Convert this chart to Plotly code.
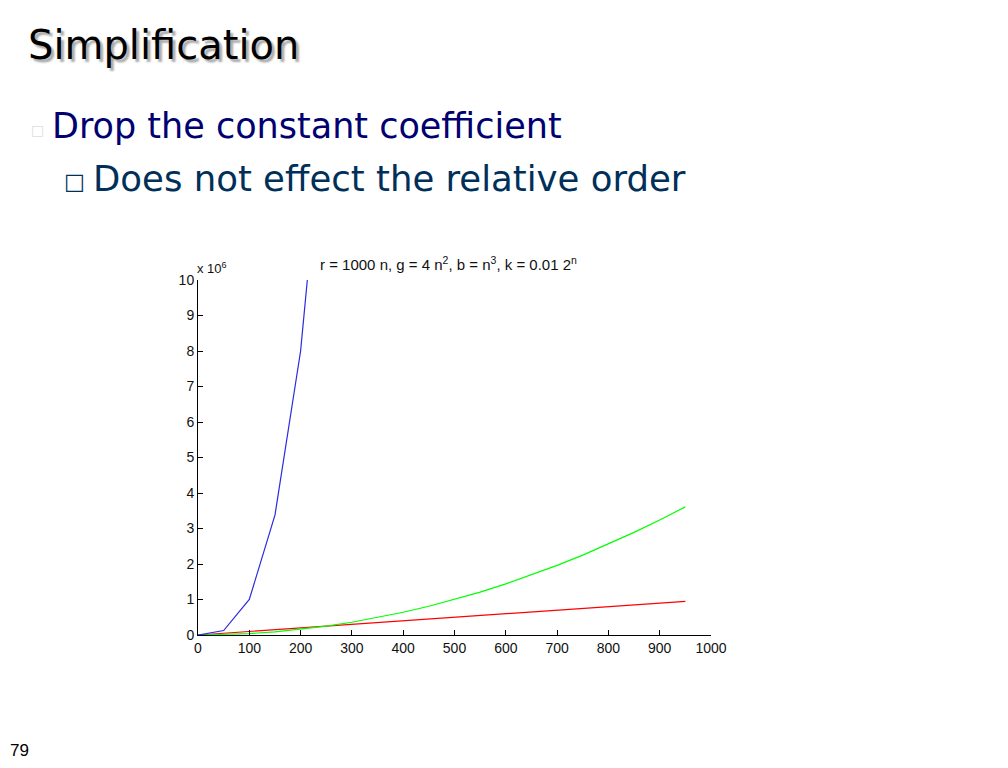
import plotly.graph_objects as go

# ---- data (values in units of 1e6) ----
n = [0, 50, 100, 150, 200, 250, 300, 350, 400, 450, 500, 550, 600, 650, 700, 750, 800, 850, 900, 950]
r_vals = [0, 0.05, 0.10, 0.15, 0.20, 0.25, 0.30, 0.35, 0.40, 0.45, 0.50, 0.55, 0.60, 0.65, 0.70, 0.75, 0.80, 0.85, 0.90, 0.95]
g_vals = [0, 0.01, 0.04, 0.09, 0.16, 0.25, 0.36, 0.49, 0.64, 0.81, 1.00, 1.21, 1.44, 1.69, 1.96, 2.25, 2.56, 2.89, 3.24, 3.61]
b_n = [0, 50, 100, 150, 200, 250]
b_vals = [0, 0.125, 1.0, 3.375, 8.0, 15.625]
x_ticks = [0, 100, 200, 300, 400, 500, 600, 700, 800, 900, 1000]
y_ticks = [0, 1, 2, 3, 4, 5, 6, 7, 8, 9, 10]

OFF = 8  # page body margin
W, H = 1008 - 2 * OFF, 768 - 2 * OFF

def fx(p):
    return (p - OFF) / W

def fy(p):
    return 1 - (p - OFF) / H

fig = go.Figure()
fig.add_trace(go.Scatter(x=n, y=r_vals, mode="lines", line=dict(color="#ff0000", width=1.2), name="r"))
fig.add_trace(go.Scatter(x=n, y=g_vals, mode="lines", line=dict(color="#00ff00", width=1.2), name="g"))
fig.add_trace(go.Scatter(x=b_n, y=b_vals, mode="lines", line=dict(color="#2a2ae0", width=1.2), name="b"))

tickfont = dict(family="Liberation Sans, Arial", size=14, color="#111")
fig.update_layout(
    width=W, height=H, margin=dict(l=0, r=0, t=0, b=0),
    paper_bgcolor="white", plot_bgcolor="white", showlegend=False,
    xaxis=dict(domain=[fx(198), fx(711)], range=[0, 1000], tickvals=x_ticks, automargin=False,
               ticks="inside", ticklen=5, tickcolor="#000", showline=True, linecolor="#000",
               linewidth=1, showgrid=False, zeroline=False, tickfont=tickfont, fixedrange=True),
    yaxis=dict(domain=[fy(635), fy(280)], range=[0, 10], tickvals=y_ticks, automargin=False,
               ticks="inside", ticklen=5, tickcolor="#000", showline=True, linecolor="#000",
               linewidth=1, showgrid=False, zeroline=False, tickfont=tickfont, fixedrange=True),
)

def ann(text, x, y, size, color, family, xanchor="left", yanchor="middle", shadow=None):
    font = dict(size=size, color=color, family=family)
    if shadow:
        font["shadow"] = shadow
    fig.add_annotation(text=text, x=fx(x), y=fy(y), xref="paper", yref="paper",
                       xanchor=xanchor, yanchor=yanchor, showarrow=False, font=font)

slide_font = "DejaVu Sans"
ann("Simplification", 26, 45, 40, "#000000", slide_font, shadow="3px 3px 2px #aaaaaa")
ann("\u25a1", 29, 130, 14, "#dddddd", slide_font)
ann("Drop the constant coefficient", 50, 126, 35, "#000070", slide_font)
ann("\u25a1", 62, 181, 22, "#003060", slide_font)
ann("Does not effect the relative order", 91, 178, 35.5, "#00305a", slide_font)
ann("79", 8, 750, 17, "#000", "Liberation Sans, Arial")

ann("x 10<sup>6</sup>", 195, 268, 13, "#111", "Liberation Sans, Arial")
ann("r = 1000 n, g = 4 n<sup>2</sup>, b = n<sup>3</sup>, k = 0.01 2<sup>n</sup>", 448, 263, 15, "#111",
    "Liberation Sans, Arial", xanchor="center")

fig.write_html("out.html")
